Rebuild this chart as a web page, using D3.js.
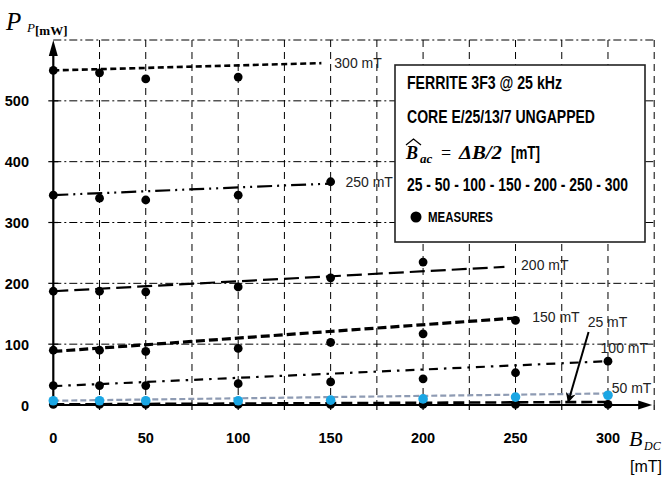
<!DOCTYPE html>
<html><head><meta charset="utf-8">
<script src="https://cdn.jsdelivr.net/npm/d3@7"></script>
<style>html,body{margin:0;padding:0;background:#fff;}svg{display:block;}</style>
</head><body>
<svg id="c" width="665" height="477"></svg>
<script>
// ---- data ----
const bdc = [0, 25, 50, 100, 150, 200, 250, 300];
const xTicks = [0, 50, 100, 150, 200, 250, 300];
const yTicks = [0, 100, 200, 300, 400, 500];
const seriesNames = ["300 mT", "250 mT", "200 mT", "150 mT", "100 mT", "50 mT", "25 mT"];
const meas300 = [550, 546, 536, 539];
const meas250 = [345, 340, 337, 345, 367];
const meas200 = [187, 187, 186, 194, 209, 235];
const meas150 = [90, 90, 88, 93, 103, 117, 139];
const meas100 = [32, 32, 32, 35, 38, 43, 53, 72];
const meas50  = [7, 7, 7, 7, 8, 10, 13, 16];
const meas25  = [1, 1, 1, 1, 1, 1, 1, 1];
// trend lines: [bdcStart, value, bdcEnd, value]
const fit300 = [0, 550, 145, 562];
const fit250 = [0, 345, 150, 364];
const fit200 = [0, 187, 244, 227];
const fit150 = [0, 88, 250, 143];
const fit100 = [0, 31, 300, 72];
const fit50  = [0, 7, 300, 19];
const fit25  = [0, 1, 300, 5];
// label anchors [bdc, value]
const lab300 = [152, 554], lab250 = [158, 358], lab200 = [253, 222], lab150 = [259, 137],
      lab100 = [296, 85], lab50 = [302, 20], lab25 = [289, 129];
const arrow25 = [289.5, 120, 278.5, 5];
const legendLines = ["FERRITE 3F3 @ 25 kHz", "CORE E/25/13/7 UNGAPPED", "25 - 50 - 100 - 150 - 200 - 250 - 300", "MEASURES"];

const svg = d3.select("#c");
const x = d3.scaleLinear().domain([0, 325]).range([53.3, 654.2]);
const y = d3.scaleLinear().domain([0, 600]).range([405, 40]);

// grid
const gv = d3.range(25, 326, 25);
svg.append("g").selectAll("line").data(gv).join("line")
  .attr("x1", d => x(d)).attr("x2", d => x(d)).attr("y1", y(600)).attr("y2", y(0))
  .attr("stroke", "#000").attr("stroke-width", 1).attr("stroke-dasharray", "7,5");
svg.append("g").selectAll("line").data(gv).join("line")
  .attr("x1", d => x(d)).attr("x2", d => x(d)).attr("y1", y(0)).attr("y2", y(0) + 5)
  .attr("stroke", "#000").attr("stroke-width", 1.2);
svg.append("g").selectAll("line").data(d3.range(100, 601, 100)).join("line")
  .attr("x1", x(0)).attr("x2", x(325)).attr("y1", d => y(d)).attr("y2", d => y(d))
  .attr("stroke", "#000").attr("stroke-width", 1).attr("stroke-dasharray", "8,3,2,3");
svg.append("g").selectAll("line").data(d3.range(100, 501, 100)).join("line")
  .attr("x1", x(0) - 5).attr("x2", x(0) + 5).attr("y1", d => y(d)).attr("y2", d => y(d))
  .attr("stroke", "#000").attr("stroke-width", 1.2);

// axes
svg.append("line").attr("x1", x(0)).attr("x2", x(0)).attr("y1", y(0)).attr("y2", y(600) + 10)
  .attr("stroke", "#000").attr("stroke-width", 2.2);
svg.append("path").attr("d", `M${x(0)},${y(600)} L${x(0)-4.5},${y(600)+16} L${x(0)+4.5},${y(600)+16} Z`).attr("fill", "#000");
svg.append("line").attr("x1", x(0)).attr("x2", x(325) - 12).attr("y1", y(0)).attr("y2", y(0))
  .attr("stroke", "#000").attr("stroke-width", 2.2);
svg.append("path").attr("d", `M${x(325)-2},${y(0)} L${x(325)-16},${y(0)-4.5} L${x(325)-16},${y(0)+4.5} Z`).attr("fill", "#000");

// tick labels
const tickFont = "'Liberation Sans',Arial,sans-serif";
svg.append("g").selectAll("text").data(yTicks).join("text")
  .attr("x", 29).attr("y", d => y(d) + 5.5).attr("text-anchor", "end")
  .attr("font-family", tickFont).attr("font-weight", "bold").attr("font-size", 14.5).text(d => d);
svg.append("g").selectAll("text").data(xTicks).join("text")
  .attr("x", d => x(d)).attr("y", 443).attr("text-anchor", "middle")
  .attr("font-family", tickFont).attr("font-weight", "bold").attr("font-size", 14.5).text(d => d);

// trend lines
const fits = [
  [fit300, "6,3.5", 2.6, "#000"],
  [fit250, "15,5,2,5,2,5", 2.2, "#000"],
  [fit200, "15,6", 2.2, "#000"],
  [fit150, "9,4", 3.2, "#000"],
  [fit100, "9,6,2.5,6", 2.2, "#000"],
  [fit50,  "6,3", 2.2, "#8e9bb3"],
  [fit25,  "11,5", 2.6, "#000"]
];
const line = d3.line().x(d => x(d[0])).y(d => y(d[1]));
fits.forEach(([f, dash, w, col]) => {
  svg.append("path").attr("d", line([[f[0], f[1]], [f[2], f[3]]]))
    .attr("fill", "none").attr("stroke", col).attr("stroke-width", w).attr("stroke-dasharray", dash);
});

// measured points
const meas = [
  [meas300, "#000"], [meas250, "#000"], [meas200, "#000"], [meas150, "#000"],
  [meas100, "#000"], [meas25, "#000"], [meas50, "#1aa6e4"]
];
meas.forEach(([vals, col]) => {
  svg.append("g").selectAll("circle").data(vals).join("circle")
    .attr("cx", (d, i) => x(bdc[i])).attr("cy", d => y(d))
    .attr("r", col === "#000" ? 4.4 : 4.8).attr("fill", col);
});

// series labels
const labFont = "'Liberation Sans',Arial,sans-serif";
const labs = [lab300, lab250, lab200, lab150, lab100, lab50, lab25];
labs.forEach((p, i) => {
  svg.append("text").attr("x", x(p[0])).attr("y", y(p[1]))
    .attr("font-family", labFont).attr("font-size", 14).attr("fill", "#222").text(seriesNames[i]);
});

// arrow to 25 mT line
svg.append("defs").append("marker").attr("id", "ah").attr("viewBox", "0 0 10 10")
  .attr("refX", 9).attr("refY", 5).attr("markerWidth", 5).attr("markerHeight", 5).attr("orient", "auto")
  .append("path").attr("d", "M0,0 L10,5 L0,10 L3,5 Z").attr("fill", "#000");
svg.append("line").attr("x1", x(arrow25[0])).attr("y1", y(arrow25[1]))
  .attr("x2", x(arrow25[2])).attr("y2", y(arrow25[3]))
  .attr("stroke", "#000").attr("stroke-width", 2).attr("marker-end", "url(#ah)");

// legend box
const lg = svg.append("g");
lg.append("rect").attr("x", 395).attr("y", 65).attr("width", 250).attr("height", 177)
  .attr("fill", "#fff").attr("stroke", "#222").attr("stroke-width", 1.6);
const lf = "'Liberation Sans',Arial,sans-serif";
// condensed legend text: smaller font stretched vertically
function legendText(txt, x0, yb, fs, len, sy) {
  lg.append("text").attr("transform", `translate(${x0},${yb}) scale(1,${sy})`)
    .attr("x", 0).attr("y", 0).attr("font-family", lf).attr("font-weight", "bold")
    .attr("font-size", fs).attr("textLength", len).attr("lengthAdjust", "spacingAndGlyphs").text(txt);
}
legendText(legendLines[0], 407, 89, 15, 155, 1.27);
legendText(legendLines[1], 407, 123, 15, 188, 1.27);
legendText(legendLines[2], 407, 191, 15, 221, 1.27);
lg.append("circle").attr("cx", 416).attr("cy", 217).attr("r", 5.5).attr("fill", "#000");
legendText(legendLines[3], 428, 222, 12, 65, 1.2);
// formula line
const sf = "'Liberation Serif','DejaVu Serif',serif";
lg.append("text").attr("x", 406).attr("y", 159).attr("font-family", sf).attr("font-style", "italic")
  .attr("font-weight", "bold").attr("font-size", 18).text("B");
lg.append("path").attr("d", "M406,145 L413.5,139 L421,145").attr("fill", "none").attr("stroke", "#000").attr("stroke-width", 1.3);
lg.append("text").attr("x", 420).attr("y", 163).attr("font-family", sf).attr("font-style", "italic")
  .attr("font-weight", "bold").attr("font-size", 13).text("ac");
lg.append("text").attr("x", 441).attr("y", 159).attr("font-family", sf)
  .attr("font-size", 18).text("=");
lg.append("text").attr("x", 459).attr("y", 159).attr("font-family", sf).attr("font-style", "italic")
  .attr("font-weight", "bold").attr("font-size", 18).attr("textLength", 43).attr("lengthAdjust", "spacingAndGlyphs").text("ΔB/2");
legendText("[mT]", 511, 159, 15, 29, 1.2);

// axis titles
svg.append("text").attr("x", 6).attr("y", 30).attr("font-family", sf).attr("font-style", "italic")
  .attr("font-size", 25).text("P");
svg.append("text").attr("x", 27).attr("y", 32).attr("font-family", sf).attr("font-style", "italic")
  .attr("font-size", 13).text("P");
svg.append("text").attr("x", 35).attr("y", 35).attr("font-family", sf).attr("font-weight", "bold")
  .attr("font-size", 13).text("[mW]");
svg.append("text").attr("x", 629).attr("y", 446).attr("font-family", sf).attr("font-style", "italic")
  .attr("font-size", 22).text("B");
svg.append("text").attr("x", 644).attr("y", 450).attr("font-family", sf).attr("font-style", "italic")
  .attr("font-size", 12).text("DC");
svg.append("text").attr("x", 630).attr("y", 472).attr("font-family", "'Liberation Sans','Arial',sans-serif")
  .attr("font-size", 16).text("[mT]");
</script>
</body></html>
